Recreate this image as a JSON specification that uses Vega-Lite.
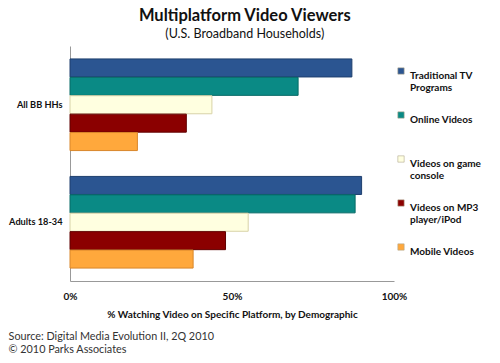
{
  "$schema": "https://vega.github.io/schema/vega-lite/v6.json",
  "background": "white",
  "padding": {"left": 8, "top": 8, "right": 5, "bottom": 5},
  "config": {"font": "Lato", "view": {"stroke": null}, "concat": {"spacing": 0}},
  "title": {
    "text": "Multiplatform Video Viewers",
    "subtitle": "(U.S. Broadband Households)",
    "font": "Lato", "fontSize": 16.5, "fontWeight": "bold", "color": "#111",
    "subtitleFont": "Lato", "subtitleFontSize": 12.5, "subtitleColor": "#111",
    "subtitlePadding": 3, "anchor": "middle", "offset": 6
  },
  "vconcat": [
    {
      "width": 324,
      "height": 235,
      "title": {
        "text": ["Source: Digital Media Evolution II, 2Q 2010", "© 2010 Parks Associates"],
        "orient": "bottom", "anchor": "start", "frame": "bounds",
        "fontSize": 10.8, "fontWeight": "normal", "color": "#333", "offset": 12, "lineHeight": 13
      },
      "data": {
        "values": [
          {"demo": "All BB HHs", "platform": "Traditional TV Programs", "pct": 87},
          {"demo": "All BB HHs", "platform": "Online Videos", "pct": 70.4},
          {"demo": "All BB HHs", "platform": "Videos on game console", "pct": 43.8},
          {"demo": "All BB HHs", "platform": "Videos on MP3 player/iPod", "pct": 35.9},
          {"demo": "All BB HHs", "platform": "Mobile Videos", "pct": 20.8},
          {"demo": "Adults 18-34", "platform": "Traditional TV Programs", "pct": 90},
          {"demo": "Adults 18-34", "platform": "Online Videos", "pct": 88},
          {"demo": "Adults 18-34", "platform": "Videos on game console", "pct": 55},
          {"demo": "Adults 18-34", "platform": "Videos on MP3 player/iPod", "pct": 48},
          {"demo": "Adults 18-34", "platform": "Mobile Videos", "pct": 38}
        ]
      },
      "mark": {"type": "bar", "strokeWidth": 1},
      "encoding": {
        "y": {
          "field": "demo", "type": "nominal",
          "sort": ["All BB HHs", "Adults 18-34"],
          "scale": {"paddingInner": 0.22, "paddingOuter": 0.11},
          "axis": {
            "title": null, "ticks": false, "labelFontWeight": "bold", "labelFontSize": 9.2,
            "labelColor": "#111", "labelPadding": 8, "domainColor": "#999"
          }
        },
        "yOffset": {
          "field": "platform", "type": "nominal",
          "sort": ["Traditional TV Programs", "Online Videos", "Videos on game console", "Videos on MP3 player/iPod", "Mobile Videos"],
          "scale": {"paddingInner": 0.02}
        },
        "x": {
          "field": "pct", "type": "quantitative",
          "scale": {"domain": [0, 100]},
          "axis": {
            "values": [0, 50, 100], "labelExpr": "datum.value + '%'", "labelFlush": false,
            "title": "% Watching Video on Specific Platform, by Demographic",
            "titleFontSize": 10, "titleFontWeight": "bold", "titleColor": "#111", "titlePadding": 8,
            "labelFontSize": 10, "labelFontWeight": "bold", "labelColor": "#111", "labelPadding": 10,
            "ticks": false, "grid": false, "domainColor": "#999"
          }
        },
        "color": {
          "field": "platform", "type": "nominal",
          "sort": ["Traditional TV Programs", "Online Videos", "Videos on game console", "Videos on MP3 player/iPod", "Mobile Videos"],
          "scale": {"range": ["#2B5591", "#0A8A85", "#FFFFE0", "#8B0000", "#FFA83C"]},
          "legend": {
            "title": null, "orient": "none", "legendX": 326, "legendY": 20, "padding": 0,
            "symbolType": "square", "symbolSize": 40, "symbolStrokeWidth": 0.6, "symbolStrokeColor": "#b0aa90",
            "labelFontSize": 10, "labelFontWeight": "bold", "labelColor": "#111",
            "labelBaseline": "top", "labelLimit": 200, "rowPadding": 17, "labelOffset": 4,
            "labelExpr": "datum.label == 'Traditional TV Programs' ? ['Traditional TV', 'Programs'] : datum.label == 'Videos on game console' ? ['Videos on game', 'console'] : datum.label == 'Videos on MP3 player/iPod' ? ['Videos on MP3', 'player/iPod'] : [datum.label, ' ']"
          }
        },
        "stroke": {
          "field": "platform", "type": "nominal",
          "sort": ["Traditional TV Programs", "Online Videos", "Videos on game console", "Videos on MP3 player/iPod", "Mobile Videos"],
          "scale": {"range": ["#1E3F6E", "#066A66", "#D8D3A8", "#600000", "#D9862A"]},
          "legend": null
        }
      }
    }
  ]
}
